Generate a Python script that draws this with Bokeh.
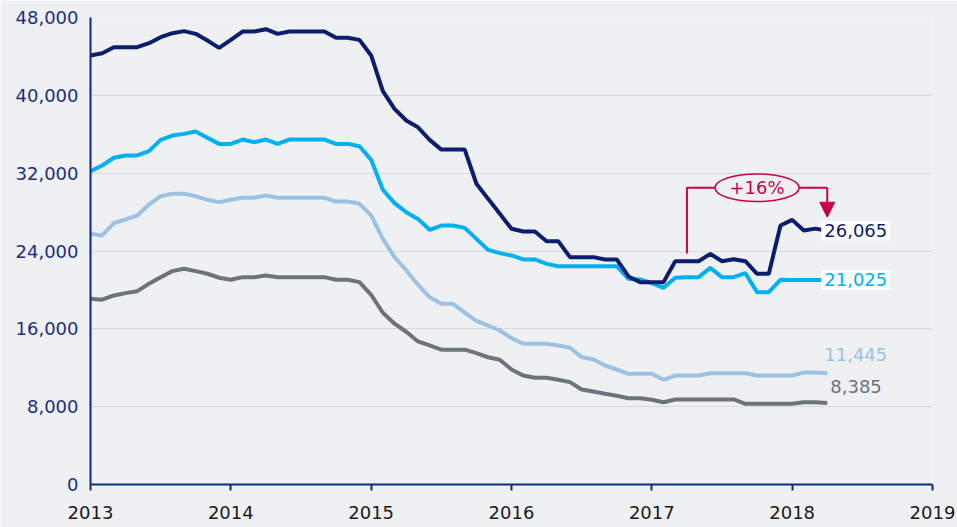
import numpy as np
from bokeh.plotting import figure
from bokeh.models import Label, Arrow, NormalHead, FixedTicker, NumeralTickFormatter, Range1d
from bokeh.embed import file_html
from bokeh.resources import INLINE

# ---------------- data (monthly, Jan 2013 - Apr 2018) ----------------
start_year = 2013
navy_vals = [
    44100, 44330, 44950, 44950, 44950, 45360, 45980, 46390, 46600, 46320, 45640, 44880,
    45700, 46560, 46560, 46800, 46320, 46560, 46560, 46560, 46560, 45910, 45910, 45700,
    44100, 40430, 38610, 37410, 36720, 35420, 34420, 34420, 34420, 30910, 29360, 27820,
    26280, 26000, 26000, 25010, 25010, 23370, 23370, 23370, 23130, 23130, 21380, 20800,
    20800, 20800, 22950, 22950, 22950, 23700, 22950, 23160, 22950, 21650, 21650, 26620,
    27200, 26110, 26300, 26065,
]
cyan_vals = [
    32200, 32790, 33580, 33820, 33820, 34260, 35420, 35870, 36040, 36280, 35630, 35010,
    35010, 35460, 35180, 35460, 35010, 35460, 35460, 35460, 35460, 35010, 35010, 34770,
    33370, 30290, 28920, 27990, 27300, 26180, 26620, 26620, 26380, 25250, 24120, 23780,
    23540, 23130, 23130, 22680, 22440, 22440, 22440, 22440, 22440, 22440, 21140, 21070,
    20690, 20220, 21250, 21310, 21310, 22270, 21310, 21310, 21720, 19770, 19770, 21040,
    21025, 21025, 21025, 21025,
]
light_vals = [
    25770, 25600, 26860, 27240, 27650, 28780, 29630, 29880, 29880, 29630, 29260, 29020,
    29260, 29470, 29470, 29710, 29470, 29470, 29470, 29470, 29470, 29090, 29090, 28850,
    27650, 25250, 23360, 22030, 20540, 19250, 18570, 18570, 17660, 16820, 16340, 15830,
    15040, 14460, 14460, 14460, 14290, 14050, 13090, 12850, 12230, 11820, 11380, 11380,
    11380, 10760, 11200, 11200, 11200, 11440, 11440, 11440, 11440, 11200, 11200, 11200,
    11200, 11500, 11500, 11445,
]
gray_vals = [
    19090, 18990, 19430, 19670, 19870, 20630, 21310, 21930, 22170, 21930, 21660, 21250,
    21040, 21310, 21310, 21480, 21310, 21310, 21310, 21310, 21310, 21040, 21040, 20800,
    19500, 17650, 16530, 15700, 14700, 14290, 13860, 13860, 13860, 13500, 13080, 12820,
    11820, 11200, 10970, 10970, 10760, 10520, 9770, 9560, 9320, 9120, 8870, 8870,
    8710, 8460, 8740, 8740, 8740, 8740, 8740, 8740, 8290, 8290, 8290, 8290,
    8290, 8450, 8450, 8385,
]
end_labels = ["26,065", "21,025", "11,445", "8,385"]
year_ticks = [2013, 2014, 2015, 2016, 2017, 2018, 2019]
year_labels = ["2013", "2014", "2015", "2016", "2017", "2018", "2019"]
y_ticks = [0, 8000, 16000, 24000, 32000, 40000, 48000]
change_label = "+16%"
change_from_index = 51      # Apr 2017
bracket_level = 30500
arrow_tip_value = 27470

x = [start_year + i / 12 for i in range(len(navy_vals))]

# ---------------- styles ----------------
BG = "#eff0f2"
NAVY = "#0b1d6c"
CYAN = "#00b0f0"
LIGHT = "#9cc2e3"
GRAY = "#6c737c"
AXIS = "#10297f"
CRIMSON = "#c9004f"
FONT = "DejaVu Sans"

p = figure(width=957, height=527, output_backend="svg", toolbar_location=None,
           x_range=Range1d(2013, 2019), y_range=Range1d(0, 48000),
           min_border_left=90, min_border_right=25, min_border_top=17, min_border_bottom=43)
p.background_fill_color = BG
p.border_fill_color = BG
p.outline_line_color = None

p.xgrid.grid_line_color = None
p.ygrid.grid_line_color = "#d8d9dd"
p.ygrid.grid_line_width = 1
p.ygrid.ticker = FixedTicker(ticks=y_ticks)

p.yaxis.ticker = FixedTicker(ticks=y_ticks)
p.yaxis.formatter = NumeralTickFormatter(format="0,0")
p.yaxis.major_tick_out = 0
p.yaxis.major_tick_in = 0
p.yaxis.minor_tick_out = 0
p.yaxis.minor_tick_in = 0
p.yaxis.axis_line_color = AXIS
p.yaxis.axis_line_width = 2
p.yaxis.major_label_text_color = "#1d2f7c"
p.yaxis.major_label_text_font = FONT
p.yaxis.major_label_text_font_size = "18px"
p.yaxis.major_label_standoff = 12

p.xaxis.ticker = FixedTicker(ticks=year_ticks)
p.xaxis.major_label_overrides = {t: l for t, l in zip(year_ticks, year_labels)}
p.xaxis.major_tick_out = 6
p.xaxis.major_tick_in = 0
p.xaxis.minor_tick_out = 0
p.xaxis.minor_tick_in = 0
p.xaxis.major_tick_line_color = AXIS
p.xaxis.major_tick_line_width = 2
p.xaxis.axis_line_color = AXIS
p.xaxis.axis_line_width = 2
p.xaxis.major_label_text_color = "#1a1a1a"
p.xaxis.major_label_text_font = FONT
p.xaxis.major_label_text_font_size = "18px"
p.xaxis.major_label_standoff = 15

for vals, col in [(gray_vals, GRAY), (light_vals, LIGHT), (cyan_vals, CYAN), (navy_vals, NAVY)]:
    p.line(x, vals, line_width=4, line_color=col)

# end labels
specs = [
    (navy_vals, end_labels[0], NAVY, -6, 0, "white"),
    (cyan_vals, end_labels[1], CYAN, -6, 0, "white"),
    (light_vals, end_labels[2], LIGHT, -6, 19, None),
    (gray_vals, end_labels[3], GRAY, 0, 16, None),
]
for vals, txt, col, xo, yo, bg in specs:
    p.add_layout(Label(x=x[-1], y=vals[-1], x_offset=xo, y_offset=yo, text=txt,
                       text_color=col, text_font=FONT, text_font_size="18px",
                       text_baseline="middle", text_align="left",
                       background_fill_color=bg, padding=3))

# change annotation
bx0 = x[change_from_index]
bx1 = x[-1]
by0 = navy_vals[change_from_index] + 800
xmid = (bx0 + bx1) / 2
p.line([bx0, bx0, bx1], [by0, bracket_level, bracket_level], line_color=CRIMSON, line_width=2)
p.add_layout(Arrow(x_start=bx1, y_start=bracket_level, x_end=bx1, y_end=arrow_tip_value,
                   line_color=CRIMSON, line_width=2,
                   end=NormalHead(size=15, fill_color=CRIMSON, line_color=CRIMSON, line_width=1)))
p.ellipse(x=[xmid], y=[bracket_level], width=0.6, height=2850,
          fill_color=BG, line_color=CRIMSON, line_width=1.5)
p.add_layout(Label(x=xmid, y=bracket_level, text=change_label, text_color=CRIMSON,
                   text_font=FONT, text_font_size="18px", text_align="center",
                   text_baseline="middle"))

open("out.html", "w").write(file_html(p, INLINE))
